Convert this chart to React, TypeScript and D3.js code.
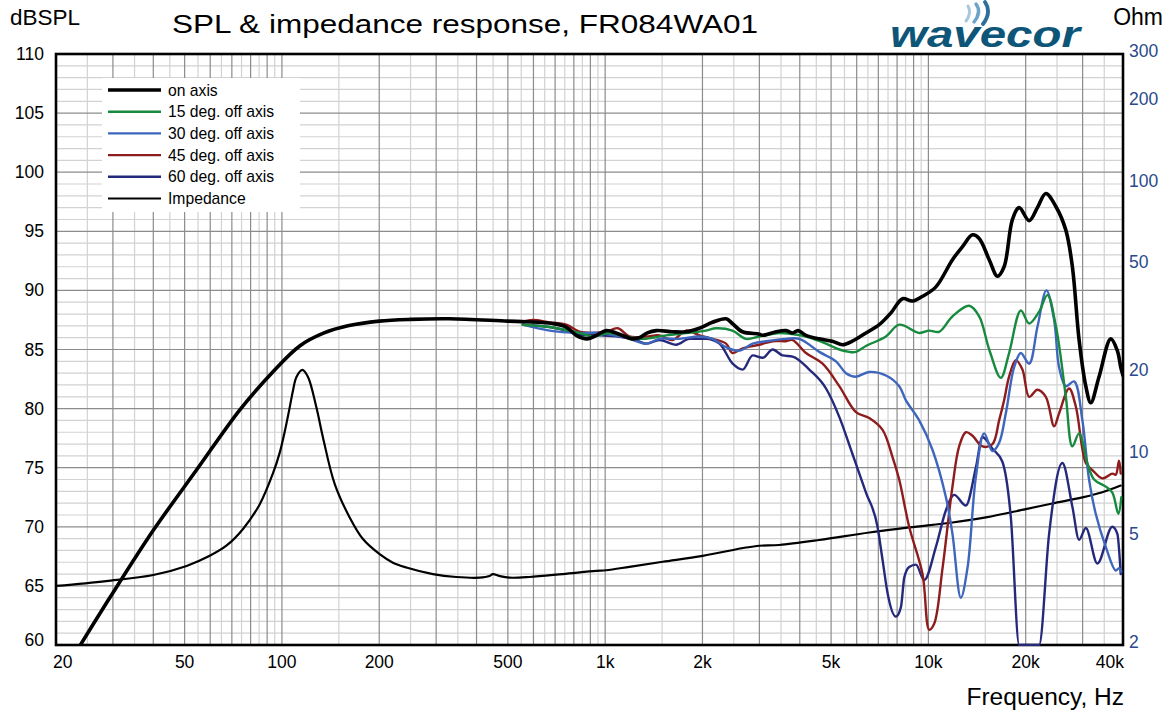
import React from "react";
import { scaleLog, scaleLinear, line, curveMonotoneX, curveCatmullRom } from "d3";

type Pt = [number, number];

// tick values / labels
const FREQ_TICKS = [20, 50, 100, 200, 500, 1000, 2000, 5000, 10000, 20000, 40000];
const FREQ_LABELS = ["20", "50", "100", "200", "500", "1k", "2k", "5k", "10k", "20k", "40k"];
const SPL_TICKS = [60, 65, 70, 75, 80, 85, 90, 95, 100, 105, 110];
const OHM_TICKS = [2, 5, 10, 20, 50, 100, 200, 300];

// [Hz, dB]
const onAxis: Pt[] = [
  [23.8, 60], [29.5, 64.1], [40, 69.7], [54.4, 74.8], [74.1, 79.9], [93.7, 83.1], [113.5, 85.3],
  [135, 86.4], [160, 87.0], [200, 87.4], [250, 87.55], [330, 87.6], [500, 87.4], [570, 87.35], [687, 87.2],
  [758, 86.9], [814, 86.2], [881, 85.9], [940, 86.2], [1007, 86.6], [1081, 86.4], [1214, 85.9],
  [1276, 86.0], [1351, 86.4], [1438, 86.6], [1615, 86.5], [1780, 86.5], [1956, 86.8], [2147, 87.3],
  [2366, 87.6], [2475, 87.2], [2658, 86.5], [2999, 86.3], [3071, 86.2], [3379, 86.5], [3627, 86.6],
  [3802, 86.4], [3950, 86.6], [4182, 86.2], [4597, 85.9], [5043, 85.7], [5428, 85.4], [5815, 85.7],
  [6410, 86.4], [7044, 87.1], [7658, 88.1], [8318, 89.3], [8932, 89.1], [9590, 89.5], [10550, 90.3],
  [11870, 92.6], [12750, 93.7], [13690, 94.7], [14360, 94.4], [15420, 92.6], [16360, 91.2],
  [17150, 92.0], [18200, 96.0], [19090, 97.0], [20500, 95.9], [21740, 97.0], [23080, 98.2],
  [24790, 97.1], [26620, 95.1], [27890, 92.0], [29260, 85.8], [30690, 81.9], [31800, 80.5],
  [33730, 82.7], [36660, 85.9], [38420, 84.9], [39360, 83.5], [40000, 82.8],
];

const off15: Pt[] = [
  [556, 87.1], [673, 86.9], [833, 86.4], [916, 86.1], [1031, 86.4], [1161, 86.1], [1307, 85.9],
  [1544, 86.2], [1780, 86.4], [2052, 86.6], [2203, 86.8], [2475, 86.6], [2729, 85.9], [2999, 86.1],
  [3458, 86.4], [3802, 86.3], [4182, 86.1], [4823, 85.5], [5300, 85.0], [5691, 84.8], [5969, 84.8],
  [6410, 85.3], [7390, 86.1], [8122, 87.1], [9367, 86.4], [10060, 86.6], [10800, 86.5],
  [11870, 87.8], [13370, 88.7], [14360, 87.8], [15420, 85.0], [16750, 82.6], [17770, 84.7],
  [19320, 88.3], [20500, 87.2], [22010, 88.2], [23350, 89.6], [24790, 87.0], [26620, 81.0],
  [27890, 76.8], [29260, 77.9], [31030, 75.4], [32550, 74.0], [35380, 73.4], [37080, 72.9],
  [38690, 71.1], [39520, 72.5],
];

const off30: Pt[] = [
  [556, 87.1], [673, 86.6], [833, 86.4], [960, 86.4], [1161, 86.0], [1339, 85.5], [1472, 85.9],
  [1697, 85.9], [1956, 86.1], [2150, 85.9], [2366, 85.2], [2601, 84.9], [2860, 85.5], [3146, 85.7],
  [3627, 85.9], [3988, 85.9], [4597, 84.8], [5177, 84.0], [5559, 83.0], [5969, 82.7], [6561, 83.1],
  [7390, 82.8], [8122, 81.9], [8519, 80.7], [9367, 79.0], [10300, 76.5], [11330, 72.5],
  [11870, 69.4], [12600, 64.0], [13210, 66.5], [14020, 74.2], [14880, 77.9], [15780, 76.4],
  [16550, 77.1], [17360, 79.6], [18420, 83.5], [19320, 84.7], [20500, 83.8], [21740, 86.9],
  [23180, 90.0], [24490, 87.5], [25370, 83.5], [26620, 81.9], [28230, 82.3], [29950, 79.0],
  [31410, 74.0], [32940, 71.1], [35380, 68.3], [37980, 66.3], [38880, 66.5], [39520, 66.2],
];

const off45: Pt[] = [
  [556, 87.35], [597, 87.5], [673, 87.3], [758, 87.1], [833, 86.5], [916, 86.4], [1007, 86.5],
  [1094, 86.8], [1189, 86.1], [1339, 86.1], [1472, 86.2], [1615, 85.8], [1780, 86.6], [1956, 86.2],
  [2150, 85.9], [2366, 85.5], [2475, 84.7], [2664, 85.1], [2999, 85.4], [3297, 85.7], [3627, 85.7],
  [3802, 85.8], [4182, 84.7], [4706, 83.8], [5300, 81.9], [5969, 79.7], [6561, 79.2], [7214, 78.2],
  [7745, 75.9], [8122, 74.0], [8721, 70.0], [9590, 66.0], [10060, 61.3], [10420, 61.8],
  [11060, 66.5], [11870, 73.4], [12450, 76.8], [13060, 78.0], [13690, 77.7], [14700, 76.8],
  [15780, 77.0], [16550, 79.0], [17150, 80.7], [17770, 82.7], [18640, 84.1], [19540, 83.3],
  [20500, 81.0], [21740, 81.6], [23080, 81.0], [24490, 78.5], [25370, 79.6], [27240, 81.7],
  [28570, 80.2], [30690, 75.4], [32160, 74.8], [34530, 74.1], [37080, 74.5], [37980, 74.4],
  [38880, 75.6], [39360, 74.5],
];

const off60: Pt[] = [
  [556, 87.1], [673, 86.9], [758, 86.6], [852, 86.2], [960, 86.2], [1217, 85.9], [1339, 85.5],
  [1472, 85.8], [1658, 85.4], [1822, 85.9], [2052, 85.9], [2256, 85.5], [2480, 83.8], [2664, 83.3],
  [2860, 84.5], [3071, 84.3], [3297, 85.0], [3540, 84.5], [3802, 84.4], [4281, 83.3], [4823, 81.7],
  [5300, 79.3], [5815, 76.2], [6410, 72.9], [6960, 70.0], [7214, 67.2], [7475, 64.4], [7937, 62.4],
  [8222, 63.2], [8420, 65.7], [8721, 66.6], [9149, 66.8], [9706, 65.5], [10550, 68.3], [11330, 71.4],
  [12020, 72.7], [13060, 71.8], [14020, 75.0], [14700, 77.6], [15780, 76.6], [16940, 75.5],
  [17990, 70.8], [19090, 60], [22010, 60], [23630, 69.4], [25970, 75.4], [27890, 71.7],
  [29260, 68.9], [30690, 69.9], [33320, 66.9], [37080, 70.0], [38420, 69.4], [39360, 66.0],
];

// [Hz, Ohm]
const impedance: Pt[] = [
  [20, 3.3], [28.6, 3.44], [40, 3.62], [50.7, 3.91], [59.8, 4.26], [67.3, 4.64], [75.8, 5.35],
  [85.4, 6.6], [93.9, 8.6], [98.4, 10.2], [102, 12.2], [105.7, 15.0], [108.2, 17.3],
  [110.9, 19.4], [115.7, 20.6], [120.4, 19.4], [127.8, 15.0], [134, 11.6], [145.6, 7.84],
  [162, 5.9], [178.1, 4.91], [200.6, 4.32], [220.5, 4.02], [242.6, 3.86], [293.2, 3.65],
  [346.2, 3.56], [408.7, 3.54], [438.8, 3.59], [449.2, 3.65], [471.3, 3.59], [506, 3.54],
  [583.4, 3.56], [739.5, 3.65], [938, 3.75], [1007, 3.77], [1189, 3.88], [1507, 4.05],
  [2003, 4.26], [2729, 4.57], [2999, 4.64], [3458, 4.67], [4597, 4.87], [6561, 5.19],
  [8721, 5.42], [11870, 5.65], [15060, 5.9], [20010, 6.33], [24180, 6.64], [29950, 6.99],
  [34530, 7.3], [39360, 7.73],
];

const LEGEND = [
  { name: "on axis", color: "#000000", width: 3.6 },
  { name: "15 deg. off axis", color: "#178a3e", width: 2.4 },
  { name: "30 deg. off axis", color: "#3f66bd", width: 2.4 },
  { name: "45 deg. off axis", color: "#8f1c1d", width: 2.4 },
  { name: "60 deg. off axis", color: "#25297c", width: 2.4 },
  { name: "Impedance", color: "#000000", width: 2.2 },
];

const FONT = "'Liberation Sans', Arial, Helvetica, sans-serif";
const W = 1170;
const H = 713;
const L = 56, R = 1123, T = 54, B = 645;

export default function App() {
  const x = scaleLog().domain([20, 40000]).range([L, R]);
  const y = scaleLinear().domain([60, 110]).range([B, T]);
  const yOhm = scaleLog().domain([2, 300]).range([B, T]);

  const smooth = line<Pt>().x(d => x(d[0])).y(d => y(d[1])).curve(curveCatmullRom.alpha(0.5));
  // the 60 deg curve sits on the bottom edge for a while, so no overshoot there
  const mono = line<Pt>().x(d => x(d[0])).y(d => y(d[1])).curve(curveMonotoneX);
  const ohm = line<Pt>().x(d => x(d[0])).y(d => yOhm(d[1])).curve(curveCatmullRom.alpha(0.5));

  // log grid: every half step within each decade
  const vGrid: { f: number; major: boolean }[] = [];
  [10, 100, 1000, 10000].forEach(dec => {
    for (let m = 1; m < 10; m += 0.5) {
      const f = m * dec;
      if (f > 20 && f < 40000) vGrid.push({ f, major: m % 1 === 0 });
    }
  });
  const hGrid: number[] = [];
  for (let v = 61; v < 110; v++) hGrid.push(v);

  const series = [
    { data: off60, gen: mono, ...LEGEND[4] },
    { data: off45, gen: smooth, ...LEGEND[3] },
    { data: off30, gen: smooth, ...LEGEND[2] },
    { data: off15, gen: smooth, ...LEGEND[1] },
    { data: onAxis, gen: smooth, ...LEGEND[0] },
  ];

  return (
    <svg width={W} height={H} style={{ position: "absolute", left: 0, top: 0, background: "#fff" }} fontFamily={FONT}>
      <defs>
        <clipPath id="plot">
          <rect x={L} y={T - 2} width={R - L} height={B - T + 3} />
        </clipPath>
      </defs>

      {/* light grid first, then the darker lines */}
      {hGrid.filter(v => v % 5 !== 0).map(v => (
        <line key={"hl" + v} x1={L} x2={R} y1={y(v)} y2={y(v)} stroke="#d2d2d2" strokeWidth={1.2} />
      ))}
      {vGrid.filter(g => !g.major).map(g => (
        <line key={"vl" + g.f} x1={x(g.f)} x2={x(g.f)} y1={T} y2={B} stroke="#d2d2d2" strokeWidth={1.2} />
      ))}
      {hGrid.filter(v => v % 5 === 0).map(v => (
        <line key={"hd" + v} x1={L} x2={R} y1={y(v)} y2={y(v)} stroke="#8c8c8c" strokeWidth={1.2} />
      ))}
      {vGrid.filter(g => g.major).map(g => (
        <line key={"vd" + g.f} x1={x(g.f)} x2={x(g.f)} y1={T} y2={B} stroke="#8c8c8c" strokeWidth={1.2} />
      ))}

      {/* legend background hides the grid */}
      <rect x={102} y={78} width={198} height={134} fill="#fff" />
      {LEGEND.map((s, i) => {
        const ly = 90 + i * 21.7;
        return (
          <g key={s.name}>
            <line x1={108} x2={161} y1={ly} y2={ly} stroke={s.color} strokeWidth={s.width} />
            <text x={168} y={ly + 5.5} fontSize={15.7} fill="#000">{s.name}</text>
          </g>
        );
      })}

      <rect x={L} y={T} width={R - L} height={B - T} fill="none" stroke="#000" strokeWidth={2.6} />

      <g clipPath="url(#plot)" fill="none" strokeLinejoin="round" strokeLinecap="round">
        <path d={ohm(impedance) || ""} stroke="#000" strokeWidth={2.2} />
        {series.map(s => (
          <path key={s.name} d={s.gen(s.data) || ""} stroke={s.color} strokeWidth={s.width} />
        ))}
      </g>

      {/* axes labels */}
      {SPL_TICKS.map(v => (
        <text key={"l" + v} x={44} y={Math.min(y(v) + 6, 646)} fontSize={17.5} textAnchor="end" fill="#000">{v}</text>
      ))}
      {OHM_TICKS.map(v => (
        <text key={"r" + v} x={1129} y={yOhm(v) + 3} fontSize={17.5} fill="#2a4a8c">{v}</text>
      ))}
      {FREQ_TICKS.map((f, i) => {
        const first = i === 0;
        const last = i === FREQ_TICKS.length - 1;
        return (
          <text key={"f" + f} x={first ? 53 : last ? 1124 : x(f)} y={668} fontSize={17.5}
            textAnchor={first ? "start" : last ? "end" : "middle"} fill="#000">{FREQ_LABELS[i]}</text>
        );
      })}

      <text x={10} y={25} fontSize={22.5} fill="#000">dBSPL</text>
      <text x={1163} y={25} fontSize={23} textAnchor="end" fill="#000">Ohm</text>
      <text x={1124} y={705} fontSize={24.5} textAnchor="end" fill="#000">Frequency, Hz</text>
      <text x={172} y={33} fontSize={25.6} textLength={586} lengthAdjust="spacingAndGlyphs" fill="#000">
        SPL &amp; impedance response, FR084WA01
      </text>

      {/* wavecor logo */}
      <g>
        <path d="M966,21 Q972,13 968,6" fill="none" stroke="#a8c8de" strokeWidth={3} strokeLinecap="round" />
        <path d="M974,22 Q982,12 976,4" fill="none" stroke="#6fa3c8" strokeWidth={3.4} strokeLinecap="round" />
        <path d="M983,24 Q992,12 985,2" fill="none" stroke="#2c6f99" strokeWidth={3.8} strokeLinecap="round" />
        <text x={890} y={46.5} fontSize={36} fontStyle="italic" fontWeight="bold" fill="#0e5678"
          textLength={190} lengthAdjust="spacingAndGlyphs">wavecor</text>
      </g>
    </svg>
  );
}
